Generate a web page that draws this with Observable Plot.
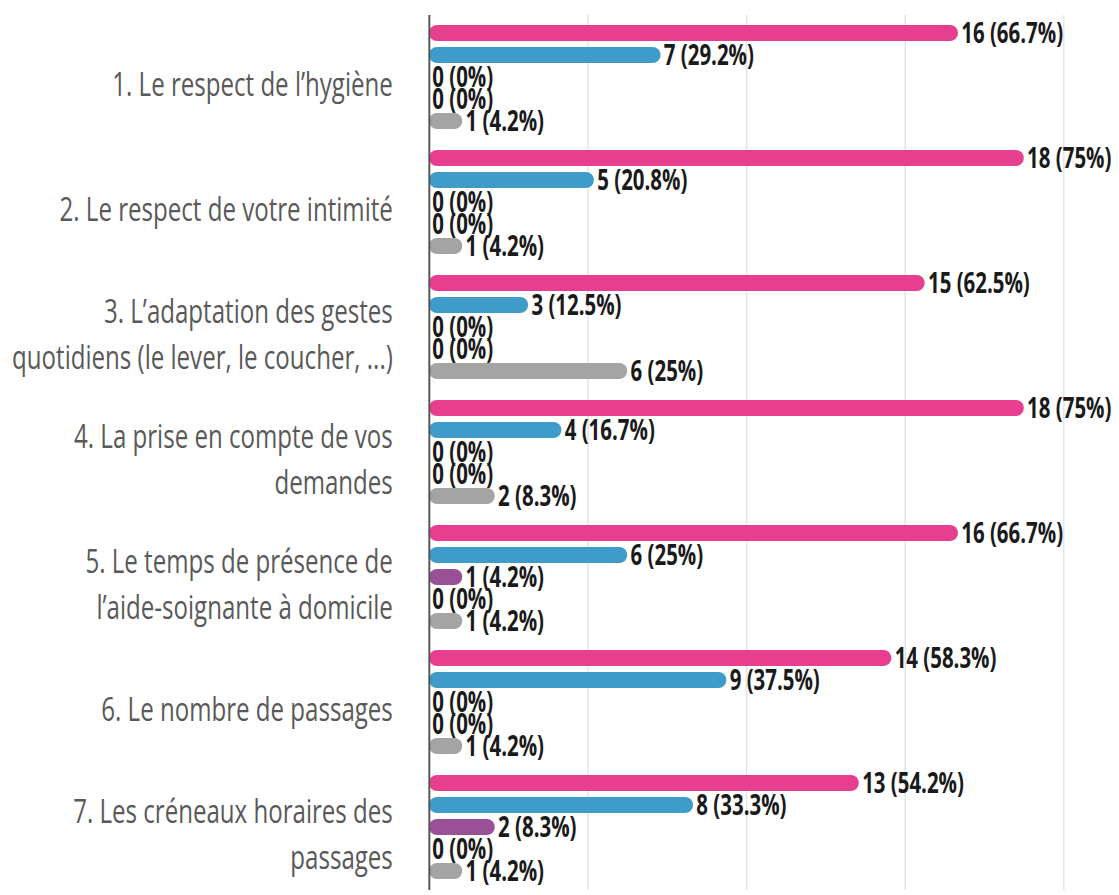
<!DOCTYPE html>
<html><head><meta charset="utf-8">
<script src="https://cdn.jsdelivr.net/npm/d3@7"></script>
<script src="https://cdn.jsdelivr.net/npm/@observablehq/plot@0.6"></script>
<style>body{margin:0;background:#fff;} #chart svg{display:block}</style>
</head><body><div id="chart"></div>
<script>
const categories = [
  "1. Le respect de l’hygiène",
  "2. Le respect de votre intimité",
  "3. L’adaptation des gestes quotidiens (le lever, le coucher, ...)",
  "4. La prise en compte de vos demandes",
  "5. Le temps de présence de l’aide-soignante à domicile",
  "6. Le nombre de passages",
  "7. Les créneaux horaires des passages"
];
const categoryLabels = [
  "1. Le respect de l’hygiène",
  "2. Le respect de votre intimité",
  "3. L’adaptation des gestes\nquotidiens (le lever, le coucher, ...)",
  "4. La prise en compte de vos\ndemandes",
  "5. Le temps de présence de\nl’aide-soignante à domicile",
  "6. Le nombre de passages",
  "7. Les créneaux horaires des\npassages"
];
const series = ["Très satisfait", "Satisfait", "Peu satisfait", "Pas du tout satisfait", "Sans avis"];
const seriesColors = ["#e83e8f", "#3f9bca", "#9a5096", "#a6cf4e", "#a4a4a4"];

const countsTresSatisfait = [16, 18, 15, 18, 16, 14, 13];
const pctTresSatisfait    = [66.7, 75, 62.5, 75, 66.7, 58.3, 54.2];
const countsSatisfait     = [7, 5, 3, 4, 6, 9, 8];
const pctSatisfait        = [29.2, 20.8, 12.5, 16.7, 25, 37.5, 33.3];
const countsPeuSatisfait  = [0, 0, 0, 0, 1, 0, 2];
const pctPeuSatisfait     = [0, 0, 0, 0, 4.2, 0, 8.3];
const countsPasSatisfait  = [0, 0, 0, 0, 0, 0, 0];
const pctPasSatisfait     = [0, 0, 0, 0, 0, 0, 0];
const countsSansAvis      = [1, 1, 6, 2, 1, 1, 1];
const pctSansAvis         = [4.2, 4.2, 25, 8.3, 4.2, 4.2, 4.2];

const gridTicks = [20, 40, 60, 80];

const countsBySeries = [countsTresSatisfait, countsSatisfait, countsPeuSatisfait, countsPasSatisfait, countsSansAvis];
const pctBySeries = [pctTresSatisfait, pctSatisfait, pctPeuSatisfait, pctPasSatisfait, pctSansAvis];

const rows = [];
categories.forEach((c, i) => series.forEach((s, j) => rows.push({
  category: c, series: s, count: countsBySeries[j][i], pct: pctBySeries[j][i]
})));

const S = 0.73, W = 1119, H = 895;
const chart = Plot.plot({
  width: Math.round(W / S), height: H,
  marginLeft: 429 / S, marginRight: 0, marginTop: 13, marginBottom: 4,
  style: {fontFamily: "Open Sans", background: "#fff"},
  x: {domain: [0, 87], axis: null},
  y: {domain: series, axis: null, paddingInner: 0.27, paddingOuter: 0.42},
  fy: {domain: categories, axis: null, padding: 0},
  color: {domain: series, range: seriesColors},
  marks: [
    Plot.ruleX(gridTicks, {stroke: "#e3e3e3", strokeWidth: 2}),
    Plot.barX(rows, {x: "pct", y: "series", fy: "category", fill: "series", rx: 11}),
    Plot.ruleX([0], {stroke: "#555", strokeWidth: 2.7}),
    Plot.text(rows, {x: "pct", y: "series", fy: "category", text: d => `${d.count} (${d.pct}%)`,
      textAnchor: "start", dx: 4, dy: 1, fontSize: 28, fontWeight: "bold", fill: "#1a1a1a", fontFamily: "Open Sans"}),
    Plot.text(categories, {fy: d => d, text: (d, i) => categoryLabels[i], frameAnchor: "left",
      textAnchor: "end", dx: -50, dy: 3, fontSize: 33, lineHeight: 1.42, fill: "#595959", fontFamily: "Open Sans"})
  ]
});
chart.setAttribute("width", W);
chart.setAttribute("height", H);
chart.setAttribute("preserveAspectRatio", "none");
chart.style.width = W + "px";
chart.style.height = H + "px";
chart.style.maxWidth = "none";
document.getElementById("chart").appendChild(chart);
</script>
</body></html>
